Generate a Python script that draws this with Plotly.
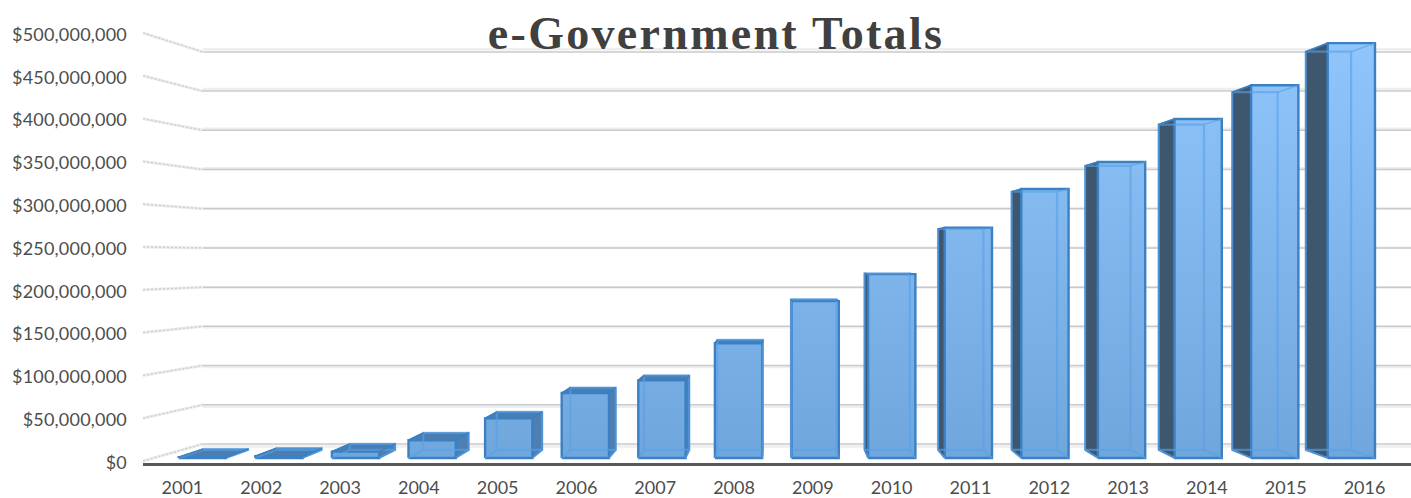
import plotly.graph_objects as go

years = list(range(2001, 2017))
totals = [1.0e6, 2.0e6, 7.5e6, 21e6, 47e6, 77e6, 92e6, 136e6, 186e6, 218e6, 273e6, 319e6, 351e6, 402e6, 442e6, 492e6]
y_ticks = [0, 50e6, 100e6, 150e6, 200e6, 250e6, 300e6, 350e6, 400e6, 450e6, 500e6]
y_labels = ["$0", "$50,000,000", "$100,000,000", "$150,000,000", "$200,000,000", "$250,000,000",
            "$300,000,000", "$350,000,000", "$400,000,000", "$450,000,000", "$500,000,000"]
title_text = "e-Government Totals"

X0, X1 = 2000.5, 2016.59
Y0, Y1 = -2.34e6, 538.55e6
VX, VY = 2008.56, 237e6      # vanishing point, in axis units
HALF = 0.3
WALL_X = 2001.26
WALL_S = 0.916
BAND_S = 0.928
FRONT_SY = 0.985
BACK_S = 0.96

LIGHT_TOP, LIGHT_BOT = "#90C6FC", "#6FA6DC"
EDGE = "#3A80C2"
INNER = "rgba(90,160,230,0.6)"
DARK = "#3E576F"
SIDE = "#4E7FB2"
TOP = "#4A7DB0"

fig = go.Figure()


def poly(xs, ys, fill=None, line=EDGE, width=2, grad=False):
    kw = dict(x=xs, y=ys, mode="lines", hoverinfo="skip", showlegend=False,
              line=dict(color=line, width=width, shape="linear"), cliponaxis=False)
    if grad:
        kw.update(fill="toself", fillgradient=dict(
            type="vertical", start=0, stop=500e6,
            colorscale=[[0, LIGHT_BOT], [1, LIGHT_TOP]]))
    elif fill:
        kw.update(fill="toself", fillcolor=fill)
    fig.add_trace(go.Scatter(**kw))


def vy(v, s):
    return VY + (v - VY) * s


def vx(x, s):
    return VX + (x - VX) * s


# walls: gridlines and their stubs toward the front plane
for t in y_ticks:
    poly([WALL_X, X1], [vy(t, BAND_S)] * 2, line="#eeeeee", width=2.5)
for t in y_ticks:
    poly([WALL_X, X1], [vy(t, WALL_S)] * 2, line="#cacaca", width=1.5)
    poly([X0, WALL_X], [t, vy(t, WALL_S)], line="#ececec", width=3)
    fig.add_trace(go.Scatter(x=[X0, WALL_X], y=[t, vy(t, WALL_S)], mode="lines", hoverinfo="skip",
                             showlegend=False, line=dict(color="#cfcfcf", width=1.5, dash="2px,2px")))

# bars
for yr, val in zip(years, totals):
    c = 2008.057 + (yr - 2008) * 0.972
    fl, fr = c - HALF, c + HALF
    bl, br = vx(fl, BACK_S), vx(fr, BACK_S)
    fb, ft = vy(0, FRONT_SY), vy(val, FRONT_SY)
    bb, bt = vy(0, FRONT_SY * BACK_S), vy(val, FRONT_SY * BACK_S)
    if bl < fl:
        poly([fl, bl, bl, fl, fl], [ft, bt, bb, fb, ft], fill=DARK, width=1.5)
    if br > fr:
        poly([fr, br, br, fr, fr], [ft, bt, bb, fb, ft], fill=SIDE, width=1.5)
    if bt > ft:
        poly([fl, bl, br, fr, fl], [ft, bt, bt, ft, ft], fill=TOP, width=1.5)
    poly([fl, fr, fr, fl, fl], [fb, fb, ft, ft, fb], grad=True, width=2.4)
    # hidden edges seen through the translucent front
    poly([bl, br, br, bl, bl], [bb, bb, bt, bt, bb], line=INNER, width=2.2)
    poly([fl, bl], [fb, bb], line=INNER, width=2)
    poly([fr, br], [fb, bb], line=INNER, width=2)
    poly([fl, bl], [ft, bt], line=EDGE if bt > ft or bl < fl else INNER, width=1.5)
    poly([fr, br], [ft, bt], line=EDGE if bt > ft or br > fr else INNER, width=1.5)

fig.update_layout(
    width=1411, height=498, autosize=False,
    margin=dict(l=143, r=0, t=0, b=35, pad=0),
    paper_bgcolor="white", plot_bgcolor="white",
    font=dict(family="Lato", color="#4d4d4d", size=18),
    title=dict(text=title_text, x=716 / 1411, xanchor="center", xref="container",
               y=1 - 33 / 498, yanchor="middle", yref="container", automargin=False,
               font=dict(family="Liberation Serif", size=46, color="#404040", weight="bold")),
    xaxis=dict(range=[X0, X1], tickvals=years, ticktext=[str(y) for y in years], showgrid=False,
               zeroline=False, showline=True, linecolor="#595959", linewidth=3, ticks="",
               ticklabelstandoff=6, tickangle=0, fixedrange=True, automargin=False),
    yaxis=dict(range=[Y0, Y1], tickvals=y_ticks, ticktext=y_labels, showgrid=False, zeroline=False,
               showline=False, ticks="", ticklabelstandoff=15, fixedrange=True, automargin=False),
)

fig.write_html("out.html",
               post_script="document.body.style.margin='0';document.body.style.overflow='hidden';"
                           "var t=document.querySelector('.gtitle');if(t){t.style.letterSpacing='2.3px';}"
                           "document.querySelectorAll('.ytick text').forEach(function(e){e.style.letterSpacing='0.2px';});"
                           "document.querySelectorAll('.yaxislayer-above').forEach(function(e){"
                           "e.style.transform='translateY(1.5px)';});",
               config={"displayModeBar": False})
